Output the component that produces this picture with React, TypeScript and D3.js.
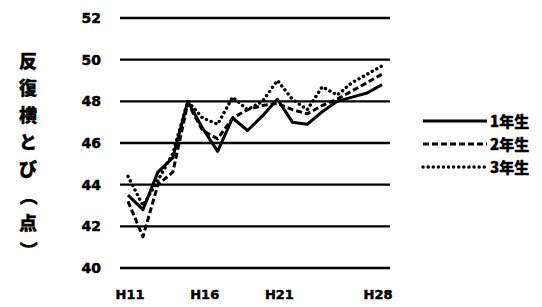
import React from "react";
import * as d3 from "d3";

const years = ["H11","H12","H13","H14","H15","H16","H17","H18","H19","H20","H21","H22","H23","H24","H25","H26","H27","H28"];
const grade1 = [43.5, 42.8, 44.6, 45.3, 48.0, 46.7, 45.6, 47.2, 46.6, 47.3, 48.1, 47.0, 46.9, 47.5, 48.0, 48.2, 48.4, 48.8];
const grade2 = [43.2, 41.5, 44.0, 44.6, 47.9, 46.6, 46.2, 47.2, 47.6, 47.8, 47.9, 47.6, 47.4, 47.8, 48.1, 48.5, 48.9, 49.3];
const grade3 = [44.4, 43.0, 44.2, 45.5, 48.0, 47.2, 46.9, 48.2, 47.6, 48.0, 49.0, 48.1, 47.6, 48.7, 48.3, 48.9, 49.3, 49.7];
const xTickLabels = ["H11", "H16", "H21", "H28"];
const yTicks = [40, 42, 44, 46, 48, 50, 52];
const seriesNames = ["1年生", "2年生", "3年生"];
const yTitleChars = ["反", "復", "横", "と", "び", "（", "点", "）"];

const dashes = ["none", "6 3", "0.1 5"];

export default function App() {
  const W = 542, H = 307;
  const x = d3.scalePoint<string>().domain(years).range([128, 382]);
  const y = d3.scaleLinear().domain([40, 52]).range([268, 18]);
  const line = d3.line<number>().x((_, i) => x(years[i]) as number).y((d) => y(d));
  const series = [grade1, grade2, grade3];
  const numFont = "'DejaVu Sans', 'Liberation Sans', sans-serif";
  const cjkFont = "'Noto Sans CJK JP', sans-serif";
  const legendY = [121, 144, 167];
  const widths = [3, 3, 3.4];

  return (
    <svg width={W} height={H} style={{ position: "absolute", left: 0, top: 0, background: "#fff" }}>
      {yTicks.map((t) => (
        <g key={t}>
          <line x1={120} x2={390} y1={y(t)} y2={y(t)} stroke="#000" strokeWidth={2.4} />
          <text x={101} y={y(t) + 5} textAnchor="end" fontFamily={numFont} fontWeight="bold" fontSize={14}
            stroke="#000" strokeWidth={0.5}>{t}</text>
        </g>
      ))}
      {xTickLabels.map((l) => (
        <text key={l} x={(x(l) as number) + (l === "H28" ? -4 : 2)} y={299} textAnchor="middle" fontFamily={numFont}
          fontWeight="bold" fontSize={13} stroke="#000" strokeWidth={0.5}>{l}</text>
      ))}
      {yTitleChars.map((c, i) => {
        const cy = 62 + i * 26.9;
        const rot = c === "（" || c === "）";
        return (
          <text key={i} x={28} y={cy} dy="0.36em" textAnchor="middle" dominantBaseline="auto" fontFamily={cjkFont}
            fontWeight="900" fontSize={18} stroke="#000" strokeWidth={0.4}
            transform={rot ? `rotate(90 28 ${cy})` : undefined}>{c}</text>
        );
      })}
      {series.map((s, i) => (
        <path key={i} d={line(s) || ""} fill="none" stroke="#000" strokeWidth={widths[i]}
          strokeDasharray={dashes[i]} strokeLinecap={i === 2 ? "round" : "butt"} strokeLinejoin="round" />
      ))}
      {seriesNames.map((n, i) => (
        <g key={n}>
          <line x1={423} x2={487} y1={legendY[i]} y2={legendY[i]} stroke="#000" strokeWidth={widths[i]}
            strokeDasharray={dashes[i]} strokeLinecap={i === 2 ? "round" : "butt"} />
          <text x={490} y={legendY[i] + 5.5} fontFamily={cjkFont} fontWeight="900" fontSize={15}
            stroke="#000" strokeWidth={0.4}>{n}</text>
        </g>
      ))}
    </svg>
  );
}
